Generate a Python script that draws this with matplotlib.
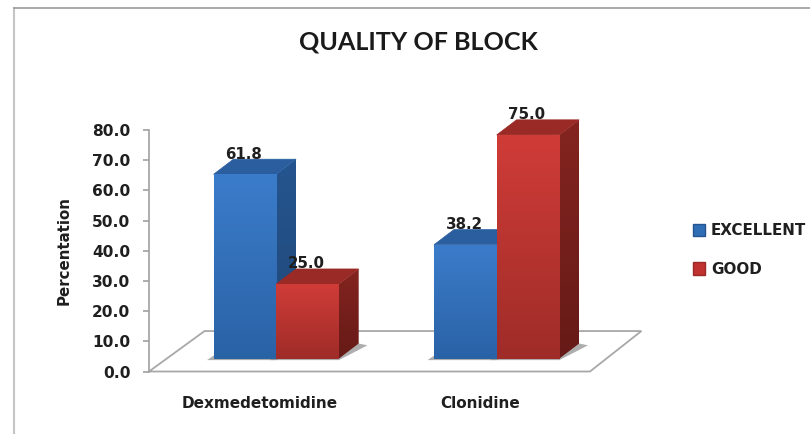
import numpy as np
import matplotlib
matplotlib.use('Agg')
import matplotlib.pyplot as plt
from matplotlib.colors import LinearSegmentedColormap
from matplotlib.lines import Line2D
from matplotlib.patches import Patch, Polygon

plt.rcParams['font.family'] = ['Lato', 'DejaVu Sans']

# data
categories = ['Dexmedetomidine', 'Clonidine']
excellent = [61.8, 38.2]
good = [25.0, 75.0]
y_ticks = [0, 10, 20, 30, 40, 50, 60, 70, 80]

# 3d look, in axis units
FLOOR_LIFT = 4.27     # bars stand this far above the front edge of the floor
VALUE_SCALE = 0.988   # bar heights run a little short of the tick spacing
DEPTH_X = 0.09
DEPTH_Y = 5.0
BAR_W = 0.284
SHIFT = 0.077         # bars sit right of the category label

BLUE = {'front': ['#3b7cca', '#2a62a6'], 'side': ['#25558f', '#1f4777'], 'top': '#2a5e9f'}
RED = {'front': ['#d03c38', '#9f2c28'], 'side': ['#842420', '#661a17'], 'top': '#9a2a26'}
TEXT = '#1f1f1f'
LABEL_FONT = 'DejaVu Sans'


def gradient(ax, extent, colors, clip, z):
    """vertical gradient, clipped to a patch"""
    cmap = LinearSegmentedColormap.from_list('g', colors)
    im = ax.imshow(np.linspace(0, 1, 128).reshape(-1, 1), cmap=cmap, extent=extent,
                   origin='upper', aspect='auto', zorder=z)
    im.set_clip_path(clip)


def draw_series(ax, xpos, values, style, z):
    bars = ax.bar(xpos, np.array(values) * VALUE_SCALE, BAR_W, bottom=FLOOR_LIFT,
                  color='none', zorder=z)
    for bar, val in zip(bars, values):
        x0, x1 = bar.get_x(), bar.get_x() + bar.get_width()
        y0, y1 = bar.get_y(), bar.get_y() + bar.get_height()
        # soft shadow on the floor
        ax.add_patch(Polygon([(x0 - 0.03, y0 - 0.5), (x1, y0 - 0.5),
                              (x1 + DEPTH_X + 0.04, y0 + DEPTH_Y - 0.6), (x1 + DEPTH_X, y0 + DEPTH_Y),
                              (x0, y0 + 1)],
                             fc='#8c8c8c', ec='none', alpha=0.7, zorder=1.5))
        side = Polygon([(x1, y0), (x1 + DEPTH_X, y0 + DEPTH_Y),
                        (x1 + DEPTH_X, y1 + DEPTH_Y), (x1, y1)], fc='none', ec='none', zorder=z)
        ax.add_patch(side)
        gradient(ax, (x1, x1 + DEPTH_X, y0, y1 + DEPTH_Y), style['side'], side, z)
        ax.add_patch(Polygon([(x0, y1), (x1, y1), (x1 + DEPTH_X, y1 + DEPTH_Y),
                              (x0 + DEPTH_X, y1 + DEPTH_Y)],
                             fc=style['top'], ec=style['top'], lw=0.5, zorder=z))
        bar.set_zorder(z + 0.1)
        gradient(ax, (x0, x1, y0, y1), style['front'], bar, z + 0.1)
        # labels touch the top face in the reference, so they sit above it
        ax.text((x0 + x1) / 2 - 0.006, y1 + 6.7, f'{val:.1f}', ha='center', va='center',
                fontsize=10.8, fontweight='bold', family=LABEL_FONT, color=TEXT, zorder=6)


fig = plt.figure(figsize=(8.10, 4.34), dpi=100)
W, H = 810, 434
# axes run to 90 so the 3d tops of the tall bar are not cut, the axis line stops at 80
ax = fig.add_axes([149 / W, 1 - 371.5 / H, 441 / W, 241.5 * 90 / 80 / H])
ax.patch.set_alpha(0)

# floor
floor = Polygon([(-0.5, 0), (1.5, 0), (1.733, 13.4), (-0.248, 13.4)], closed=True,
                fc='white', ec='#a8a8a8', lw=1.3, zorder=1, clip_on=False)
ax.add_patch(floor)

xs = np.arange(len(categories)) + SHIFT
draw_series(ax, xs - BAR_W / 2, excellent, BLUE, 2)
draw_series(ax, xs + BAR_W / 2, good, RED, 3)

ax.set_xlim(-0.5, 1.5)
ax.set_ylim(0, 90)
ax.set_xticks(range(len(categories)))
ax.set_xticklabels(categories, fontsize=11, fontweight='bold', family=LABEL_FONT, color=TEXT)
ax.tick_params(axis='x', length=0, pad=18)
ax.set_yticks(y_ticks)
ax.set_yticklabels([f'{v:.1f}' for v in y_ticks], fontsize=11.1, fontweight='bold',
                   family=LABEL_FONT, color=TEXT)
ax.tick_params(axis='y', length=4, width=1.2, color='#a0a0a0', pad=9.5)
for name in ['top', 'right', 'bottom']:
    ax.spines[name].set_visible(False)
ax.spines['left'].set_color('#a0a0a0')
ax.spines['left'].set_linewidth(1.2)
ax.spines['left'].set_bounds(0, 80)
ax.set_ylabel('Percentation', fontsize=10.8, fontweight='bold', family=LABEL_FONT, color=TEXT)
ax.yaxis.set_label_coords(72 / W, 1 - 251 / H, transform=fig.transFigure)

fig.text(418 / W, 1 - 42 / H, 'QUALITY OF BLOCK', ha='center', va='center',
         fontsize=18.1, fontweight='bold', color='#1a1a1a')

handles = [Patch(fc='#2f6db5', ec='#25558f', label='EXCELLENT'),
           Patch(fc='#c0322f', ec='#9a2a26', label='GOOD')]
fig.legend(handles=handles, loc='center left', bbox_to_anchor=(679 / W, 1 - 250 / H),
           frameon=False, handlelength=0.85, handleheight=0.85,
           handletextpad=0.35, labelspacing=1.55, labelcolor=TEXT,
           prop={'weight': 'bold', 'size': 10.9, 'family': LABEL_FONT})

# page border of the scanned figure
fig.add_artist(Line2D([14 / W, 14 / W], [0, 1 - 8 / H], color='#c4c4c4', lw=1.5))
fig.add_artist(Line2D([14 / W, 1], [1 - 8 / H, 1 - 8 / H], color='#9a9a9a', lw=1.2))

fig.savefig('out.png', dpi=100)
